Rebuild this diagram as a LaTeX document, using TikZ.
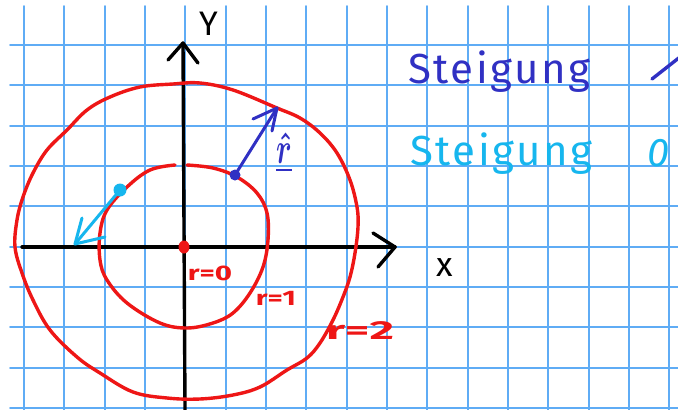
\documentclass[tikz,border=0pt]{standalone}
\usepackage{fontspec}
\setmainfont{Fira Sans}
\usetikzlibrary{shapes.geometric}
\definecolor{gridc}{RGB}{95,172,245}
\definecolor{redc}{RGB}{238,22,22}
\definecolor{bluec}{RGB}{48,48,195}
\definecolor{cyanc}{RGB}{22,182,238}
\begin{document}
\begin{tikzpicture}[x=1pt,y=-1pt,line cap=round,line join=round,
  gridline/.style={gridc,line width=1.8pt},
  axis/.style={black,line width=3.4pt},
  curve/.style={redc,line width=3.4pt},
  vec/.style={line width=3pt},
  dotnode/.style={circle,inner sep=0pt,minimum size=11pt},
  redlabel/.style={redc,font=\fontsize{21}{21}\selectfont\bfseries,inner sep=0pt,xscale=1.4},
  bigtext/.style={font=\fontsize{42}{42}\selectfont\addfontfeature{LetterSpace=6},inner sep=0pt}]
\fill[white] (0,0) rectangle (678,410);
\useasboundingbox (0,0) rectangle (678,410);
% grid
\foreach \i in {0,...,16} \draw[gridline] ({24+40.33*\i},6) -- ({24+40.33*\i},410);
\foreach \j in {0,...,9} \draw[gridline] (10,{45+40.33*\j}) -- (678,{45+40.33*\j});
% axes
\coordinate (xs) at (22,247);
\coordinate (xe) at (395,247);
\coordinate (ys) at (185,410);
\coordinate (ye) at (183,43);
\draw[axis] (xs) -- (xe);
\draw[axis] (xe) ++(-22,-14) -- (xe) -- ++(-17,20);
\draw[axis] (ys) -- (ye);
\draw[axis] (ye) ++(-15,17) -- (ye) -- ++(15,20);
\node[font=\fontsize{34}{34}\selectfont,inner sep=0pt] (ylab) at (209,24) {Y};
\node[font=\fontsize{34}{34}\selectfont,inner sep=0pt] (xlab) at (445,268) {x};
% outer circle r=2
\draw[curve] plot[smooth cycle,tension=0.6] coordinates {
 (200,83) (233,90) (277,108) (300,118) (320,133) (337,153) (350,180) (357,207)
 (358,227) (355,253) (350,277) (343,297) (333,320) (320,343) (307,358) (287,370)
 (260,387) (233,395) (200,399) (167,398) (133,392) (100,373) (77,357) (50,330)
 (33,300) (22,273) (15,247) (17,220) (23,197) (33,173) (47,150) (67,130)
 (87,110) (110,97) (140,87) (173,84)};
% inner circle r=1
\draw[curve] plot[smooth,tension=0.6] coordinates {
 (187,165) (213,168) (237,177) (257,193) (267,213) (268,240) (263,267) (250,293)
 (233,313) (213,323) (187,328) (160,323) (127,303) (107,280) (100,260) (100,233)
 (107,210) (127,187) (150,170) (175,165)};
% origin
\node[ellipse,inner sep=0pt,fill=redc,minimum width=11pt,minimum height=13pt] (O) at (184,247) {};
% labels
\node[redlabel] (l0) at (210,273) {r=0};
\node[redlabel] (l1) at (276,298) {r=1};
\node[redlabel,font=\fontsize{26}{26}\selectfont\bfseries,xscale=1.3] (l2) at (360,331) {r=2};
% blue vector
\node[dotnode,fill=bluec] (bdot) at (235,175) {};
\coordinate (btip) at (277,108);
\draw[vec,bluec] (bdot.center) -- (btip);
\draw[vec,bluec] (btip) ++(-24,11) -- (btip) -- ++(-5,23);
\node[bluec,inner sep=0pt,xscale=2.8,yscale=4.4,font=\boldmath] (rhat) at (284,153) {$\underline{\hat{r}}$};
% cyan vector
\node[dotnode,fill=cyanc,minimum size=13pt] (cdot) at (120,190) {};
\coordinate (ctip) at (75,244);
\draw[vec,cyanc] (cdot.center) -- (ctip);
\draw[vec,cyanc] (ctip) ++(7,-26) -- (ctip) -- ++(30,-7);
% right text
\node[bigtext,bluec,anchor=base west] (s1) at (408,83) {Steigung};
\draw[bluec,line width=3.4pt] (652,79) -- (680,57);
\node[bigtext,cyanc,anchor=base west] (s2) at (410,165) {Steigung};
\node[bigtext,cyanc,font=\fontsize{40}{40}\selectfont\itshape] (zero) at (659,153) {0};
\end{tikzpicture}
\end{document}
